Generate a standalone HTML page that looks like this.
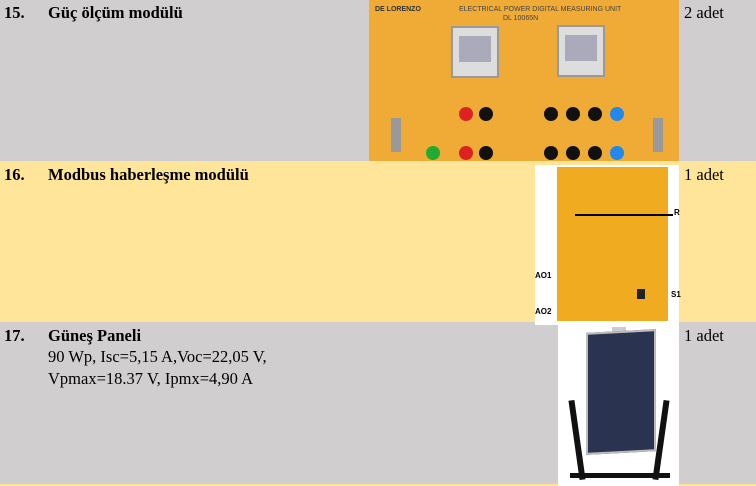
<!DOCTYPE html>
<html><head><meta charset="utf-8"><style>
*{margin:0;padding:0;box-sizing:border-box}
body{width:756px;height:486px;overflow:hidden;background:#fff;font-family:"Liberation Serif",serif;position:relative}
.r{position:absolute;left:0;width:756px}
.t{position:absolute;font-size:16.5px;line-height:19px;color:#000;white-space:nowrap}
.b{font-weight:bold}
.c{position:absolute;font-size:16.5px;line-height:19px}
.a{position:absolute}
</style></head><body>
<div class="r" style="top:0;height:161px;background:#d0cece"></div>
<div class="r" style="top:161px;height:161px;background:#ffe599"></div>
<div class="r" style="top:322px;height:162px;background:#d0cece"></div>
<div class="r" style="top:484px;height:2px;background:#ffe599"></div>

<div class="t b" style="left:4px;top:3px">15.</div>
<div class="t b" style="left:48px;top:3px">Güç ölçüm modülü</div>
<div class="c" style="left:684px;top:3px">2 adet</div>

<div class="t b" style="left:4px;top:165px">16.</div>
<div class="t b" style="left:48px;top:165px">Modbus haberleşme modülü</div>
<div class="c" style="left:684px;top:165px">1 adet</div>

<div class="t b" style="left:4px;top:326px">17.</div>
<div class="t b" style="left:48px;top:326px">Güneş Paneli</div>
<div class="t" style="left:48px;top:347px">90 Wp, Isc=5,15 A,Voc=22,05 V,</div>
<div class="t" style="left:48px;top:369px">Vpmax=18.37 V, Ipmx=4,90 A</div>
<div class="c" style="left:684px;top:326px">1 adet</div>

<!-- image 1 -->
<div class="a" style="left:369px;top:0;width:310px;height:161px;background:#f0ab36">
 <div class="a" style="left:6px;top:6px;font:bold 7px 'Liberation Sans',sans-serif;color:#333">DE LORENZO</div>
 <div class="a" style="left:90px;top:6px;font:7px 'Liberation Sans',sans-serif;color:#444">ELECTRICAL POWER DIGITAL MEASURING UNIT</div>
 <div class="a" style="left:134px;top:15px;font:7px 'Liberation Sans',sans-serif;color:#444">DL 10065N</div>
 <div class="a" style="left:82px;top:26px;width:48px;height:52px;background:#ddd;border:2px solid #999"><div class="a" style="left:6px;top:8px;width:32px;height:26px;background:#aab"></div></div>
 <div class="a" style="left:188px;top:25px;width:48px;height:52px;background:#ddd;border:2px solid #999"><div class="a" style="left:6px;top:8px;width:32px;height:26px;background:#aab"></div></div>
 <div class="a" style="left:90px;top:107px;width:14px;height:14px;border-radius:50%;background:#d22"></div>
 <div class="a" style="left:110px;top:107px;width:14px;height:14px;border-radius:50%;background:#111"></div>
 <div class="a" style="left:90px;top:146px;width:14px;height:14px;border-radius:50%;background:#d22"></div>
 <div class="a" style="left:110px;top:146px;width:14px;height:14px;border-radius:50%;background:#111"></div>
 <div class="a" style="left:57px;top:146px;width:14px;height:14px;border-radius:50%;background:#2a3"></div>
 <div class="a" style="left:175px;top:107px;width:14px;height:14px;border-radius:50%;background:#111"></div>
 <div class="a" style="left:197px;top:107px;width:14px;height:14px;border-radius:50%;background:#111"></div>
 <div class="a" style="left:219px;top:107px;width:14px;height:14px;border-radius:50%;background:#111"></div>
 <div class="a" style="left:241px;top:107px;width:14px;height:14px;border-radius:50%;background:#28e"></div>
 <div class="a" style="left:175px;top:146px;width:14px;height:14px;border-radius:50%;background:#111"></div>
 <div class="a" style="left:197px;top:146px;width:14px;height:14px;border-radius:50%;background:#111"></div>
 <div class="a" style="left:219px;top:146px;width:14px;height:14px;border-radius:50%;background:#111"></div>
 <div class="a" style="left:241px;top:146px;width:14px;height:14px;border-radius:50%;background:#28e"></div>
 <div class="a" style="left:22px;top:118px;width:10px;height:34px;background:#999"></div>
 <div class="a" style="left:284px;top:118px;width:10px;height:34px;background:#999"></div>
</div>

<!-- image 2 -->
<div class="a" style="left:535px;top:165px;width:144px;height:160px;background:#fff">
 <div class="a" style="left:22px;top:2px;width:111px;height:154px;background:#f0ab20"></div>
 <div class="a" style="left:40px;top:49px;width:98px;height:2px;background:#000"></div>
 <div class="a" style="left:139px;top:43px;font:bold 8px 'Liberation Sans',sans-serif">R</div>
 <div class="a" style="left:0;top:106px;font:bold 8px 'Liberation Sans',sans-serif">AO1</div>
 <div class="a" style="left:0;top:142px;font:bold 8px 'Liberation Sans',sans-serif">AO2</div>
 <div class="a" style="left:136px;top:125px;font:bold 8px 'Liberation Sans',sans-serif">S1</div>
 <div class="a" style="left:102px;top:124px;width:8px;height:10px;background:#222"></div>
</div>

<!-- image 3 -->
<div class="a" style="left:558px;top:325px;width:121px;height:161px;background:#fff">
 <div class="a" style="left:54px;top:2px;width:14px;height:6px;background:#ccc"></div>
 <div class="a" style="left:28px;top:6px;width:70px;height:122px;background:#2a3450;border:2px solid #bbb;transform:skewY(-3deg)"></div>
 <div class="a" style="left:16px;top:75px;width:6px;height:80px;background:#111;transform:rotate(-8deg)"></div>
 <div class="a" style="left:100px;top:75px;width:6px;height:80px;background:#111;transform:rotate(8deg)"></div>
 <div class="a" style="left:12px;top:148px;width:100px;height:5px;background:#111"></div>
</div>
</body></html>
